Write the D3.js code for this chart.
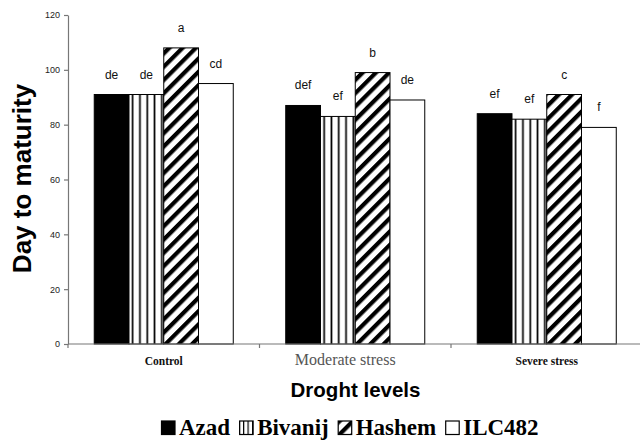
<!DOCTYPE html>
<html>
<head>
<meta charset="utf-8">
<title>Day to maturity</title>
<script src="https://d3js.org/d3.v7.min.js"></script>
<style>
  * { margin: 0; padding: 0; }
  body { background: #fff; width: 640px; height: 446px; overflow: hidden; }
  svg { display: block; }
</style>
</head>
<body>
<svg id="chart" width="640" height="446"></svg>
<script>
// data
var levels = ["Control", "Moderate stress", "Severe stress"];
var cultivars = ["Azad", "Bivanij", "Hashem", "ILC482"];
var azad    = [91, 87, 84];
var bivanij = [91, 83, 82];
var hashem  = [108, 99, 91];
var ilc482  = [95, 89, 79];
var letters = [["de", "de", "a", "cd"], ["def", "ef", "b", "de"], ["ef", "ef", "c", "f"]];
var yTicks = [0, 20, 40, 60, 80, 100, 120];

var series = [azad, bivanij, hashem, ilc482];
var fills = ["#000", "url(#vlines)", "url(#hatch)", "#fff"];

var svg = d3.select("#chart");

// patterns
var defs = svg.append("defs");
var vl = defs.append("pattern").attr("id", "vlines")
  .attr("patternUnits", "userSpaceOnUse").attr("width", 7.3).attr("height", 10)
  .attr("x", 129);
vl.append("rect").attr("width", 7.3).attr("height", 10).attr("fill", "#fff");
vl.append("rect").attr("x", 0.5).attr("width", 1.7).attr("height", 10).attr("fill", "#000");

var ht = defs.append("pattern").attr("id", "hatch")
  .attr("patternUnits", "userSpaceOnUse").attr("width", 9.4).attr("height", 9.4)
  .attr("patternTransform", "rotate(45)");
ht.append("rect").attr("width", 9.4).attr("height", 9.4).attr("fill", "#fff");
ht.append("rect").attr("width", 4.2).attr("height", 9.4).attr("fill", "#000");

var vlS = defs.append("pattern").attr("id", "vlinesSmall")
  .attr("patternUnits", "userSpaceOnUse").attr("width", 4.5).attr("height", 10);
vlS.append("rect").attr("width", 4.5).attr("height", 10).attr("fill", "#fff");
vlS.append("rect").attr("x", 0).attr("width", 1.2).attr("height", 10).attr("fill", "#000");

// plot edges (don't name these top/left, window.top is read only)
var plotL = 68, plotR = 642.5, plotT = 15, plotB = 344;

var x0 = d3.scaleBand().domain(levels).range([plotL, plotR]).padding(0);
var x1 = d3.scaleBand().domain(cultivars).range([0, x0.bandwidth()])
  .paddingInner(0).paddingOuter(0.755);
var y = d3.scaleLinear().domain([0, 120]).range([plotB, plotT]);

// y axis
var yAxis = svg.append("g").attr("transform", "translate(" + plotL + ",0)")
  .call(d3.axisLeft(y).tickValues(yTicks).tickSize(4).tickSizeOuter(0).tickPadding(4));
yAxis.selectAll("text").attr("font-family", "Liberation Sans, Arial, sans-serif")
  .attr("font-size", 9).attr("fill", "#222");
yAxis.selectAll("line, path").attr("stroke", "#777").attr("stroke-width", 1.2);

// bars
var groups = svg.append("g").selectAll("g").data(levels).enter().append("g")
  .attr("transform", function(d) { return "translate(" + x0(d) + ",0)"; });

groups.each(function(lev, li) {
  var g = d3.select(this);
  cultivars.forEach(function(c, ci) {
    var v = series[ci][li];
    g.append("rect")
      .attr("x", x1(c)).attr("y", y(v))
      .attr("width", x1.bandwidth()).attr("height", y(0) - y(v))
      .attr("fill", fills[ci]).attr("stroke", "#000").attr("stroke-width", 1);
    g.append("text")
      .attr("x", x1(c) + x1.bandwidth() / 2).attr("y", y(v) - 16)
      .attr("text-anchor", "middle")
      .attr("font-family", "Liberation Sans, Arial, sans-serif")
      .attr("font-size", 12).attr("fill", "#111")
      .text(letters[li][ci]);
  });
});

// x axis
var xEdges = levels.map(function(d) { return x0(d); }).concat([plotR]);
var xAxis = svg.append("g");
xAxis.append("line").attr("x1", plotL).attr("x2", plotR).attr("y1", plotB).attr("y2", plotB)
  .attr("stroke", "#777").attr("stroke-width", 1.2);
xAxis.selectAll(".tk").data(xEdges).enter().append("line")
  .attr("x1", function(d) { return d; }).attr("x2", function(d) { return d; })
  .attr("y1", plotB).attr("y2", plotB + 4)
  .attr("stroke", "#777").attr("stroke-width", 1.2);

var catStyle = [
  { size: 11.5, weight: "bold", fill: "#111" },
  { size: 16, weight: "normal", fill: "#555" },
  { size: 11.5, weight: "bold", fill: "#111" }
];
xAxis.selectAll(".cat").data(levels).enter().append("text")
  .attr("x", function(d, i) { return x0(d) + x0.bandwidth() / 2 + (i == 1 ? -10 : 0); })
  .attr("y", 365)
  .attr("text-anchor", "middle")
  .attr("font-family", "Liberation Serif, Times New Roman, serif")
  .attr("font-size", function(d, i) { return catStyle[i].size; })
  .attr("font-weight", function(d, i) { return catStyle[i].weight; })
  .attr("fill", function(d, i) { return catStyle[i].fill; })
  .text(function(d) { return d; });

// titles
svg.append("text")
  .attr("transform", "translate(31,178.5) rotate(-90)")
  .attr("text-anchor", "middle")
  .attr("font-family", "Liberation Sans, Arial, sans-serif")
  .attr("font-size", 26).attr("font-weight", "bold").attr("fill", "#000")
  .text("Day to maturity");

svg.append("text")
  .attr("x", 355.5).attr("y", 397)
  .attr("text-anchor", "middle")
  .attr("font-family", "Liberation Sans, Arial, sans-serif")
  .attr("font-size", 20.5).attr("font-weight", "bold").attr("fill", "#000")
  .text("Droght levels");

// legend
var legendFills = ["#000", "url(#vlinesSmall)", "url(#hatch)", "#fff"];
var lg = svg.append("g");
var lx = 161, ly = 435;
cultivars.forEach(function(c, i) {
  lg.append("rect").attr("x", lx + 0.5).attr("y", ly - 14)
    .attr("width", 13.5).attr("height", 13.5)
    .attr("fill", legendFills[i]).attr("stroke", "#000").attr("stroke-width", 1.2);
  var t = lg.append("text").attr("x", lx + 18).attr("y", ly)
    .attr("font-family", "Liberation Serif, Times New Roman, serif")
    .attr("font-size", 23).attr("font-weight", "bold").attr("fill", "#000")
    .text(c);
  lx = lx + 18 + t.node().getComputedTextLength() + 9;
});
</script>
</body>
</html>
